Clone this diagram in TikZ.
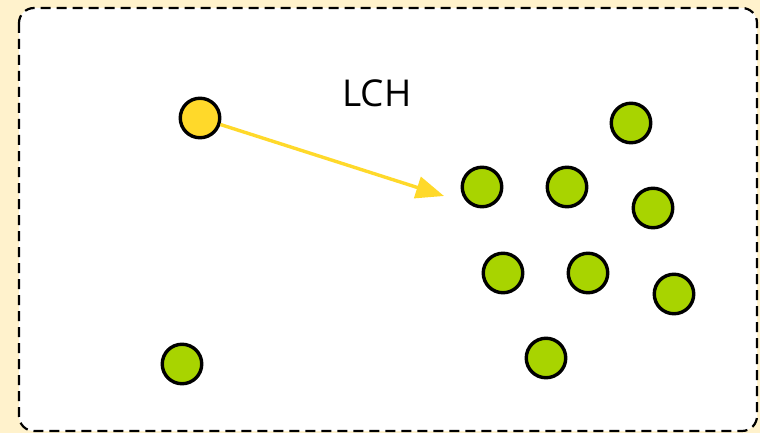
\documentclass[tikz,border=0pt]{standalone}
\usepackage{fontspec}
\setmainfont{Open Sans}
\usetikzlibrary{arrows.meta}
\definecolor{paper}{HTML}{FFF2CC}
\definecolor{leaf}{HTML}{A8D400}
\definecolor{sun}{HTML}{FFD92A}

\begin{document}
\begin{tikzpicture}[x=1pt, y=-1pt,
		dot/.style={circle, draw=black, line width=3.4pt, minimum size=39.5pt, inner sep=0pt},
		query/.style={dot, fill=sun},
		point/.style={dot, fill=leaf}]
			%%%%% START %%%%%
			
			\fill[paper] (0, 0) rectangle (760, 433);
			\useasboundingbox (0, 0) rectangle (760, 433);
			\draw[fill=white, dashed, dash pattern=on 10pt off 6pt, line width=2.2pt, rounded corners=15pt] (19, 8) rectangle (757, 431);
			
			\node[font=\fontsize{37}{44}\selectfont] (lbl) at (377, 93) {LCH};
			
			\node[query] (q) at (200, 118) {};
			\coordinate (tip) at (444, 196);
			\draw[sun, line width=3.4pt, -{Triangle[length=28pt, width=22pt]}] (q) -- (tip);
			
			\node[point] (p1) at (631, 123) {};
			\node[point] (p2) at (482, 187) {};
			\node[point] (p3) at (567, 187) {};
			\node[point] (p4) at (653, 208) {};
			\node[point] (p5) at (503, 273) {};
			\node[point] (p6) at (588, 273) {};
			\node[point] (p7) at (674, 294) {};
			\node[point] (p8) at (546, 358) {};
			\node[point] (p9) at (182, 364) {};
			
			%%%%% END %%%%%
		\end{tikzpicture}
\end{document}
